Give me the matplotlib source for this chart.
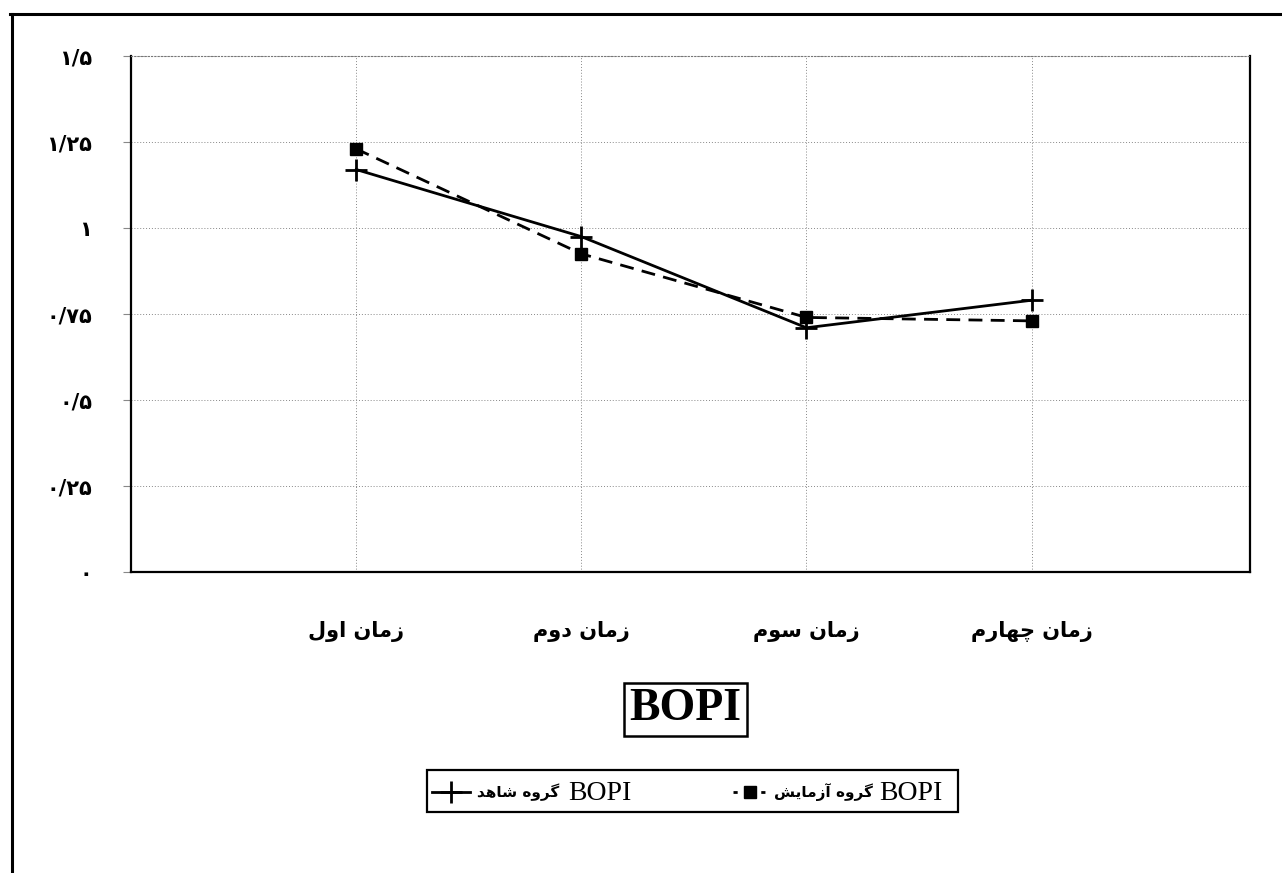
import matplotlib
matplotlib.use("Agg")
import matplotlib.pyplot as plt
from matplotlib.lines import Line2D
from matplotlib.patches import Rectangle

# ---------------- data ----------------
categories = ["زمان اول", "زمان دوم", "زمان سوم", "زمان چهارم"]
control_values = [1.17, 0.975, 0.71, 0.79]       # BOPI گروه شاهد
experiment_values = [1.23, 0.925, 0.74, 0.73]    # BOPI گروه آزمایش
y_ticks = [0, 0.25, 0.5, 0.75, 1.0, 1.25, 1.5]
y_tick_labels = ["۰", "۰/۲۵", "۰/۵", "۰/۷۵", "۱", "۱/۲۵", "۱/۵"]
title_text = "BOPI"
control_label = "گروه شاهد"
experiment_label = "گروه آزمایش"
series_name = "BOPI"

# ------------- simple Persian shaping (presentation forms + visual order) -------------
FORMS = {
    "ا": ("\uFE8D", "\uFE8E", None, None),
    "آ": ("\uFE81", "\uFE82", None, None),
    "د": ("\uFEA9", "\uFEAA", None, None),
    "ر": ("\uFEAD", "\uFEAE", None, None),
    "ز": ("\uFEAF", "\uFEB0", None, None),
    "و": ("\uFEED", "\uFEEE", None, None),
    "م": ("\uFEE1", "\uFEE2", "\uFEE3", "\uFEE4"),
    "ن": ("\uFEE5", "\uFEE6", "\uFEE7", "\uFEE8"),
    "ل": ("\uFEDD", "\uFEDE", "\uFEDF", "\uFEE0"),
    "س": ("\uFEB1", "\uFEB2", "\uFEB3", "\uFEB4"),
    "ش": ("\uFEB5", "\uFEB6", "\uFEB7", "\uFEB8"),
    "ه": ("\uFEE9", "\uFEEA", "\uFEEB", "\uFEEC"),
    "چ": ("\uFB7A", "\uFB7B", "\uFB7C", "\uFB7D"),
    "گ": ("\uFB92", "\uFB93", "\uFB94", "\uFB95"),
    "ی": ("\uFBFC", "\uFBFD", "\uFBFE", "\uFBFF"),
}


def shape(text):
    out = []
    n = len(text)
    for i, ch in enumerate(text):
        if ch not in FORMS:
            out.append(ch)
            continue
        iso, fin, ini, med = FORMS[ch]
        prev = text[i - 1] if i > 0 else ""
        nxt = text[i + 1] if i < n - 1 else ""
        join_prev = prev in FORMS and FORMS[prev][2] is not None
        join_next = ini is not None and nxt in FORMS
        if join_prev and join_next:
            out.append(med)
        elif join_prev:
            out.append(fin)
        elif join_next:
            out.append(ini)
        else:
            out.append(iso)
    return "".join(out)[::-1]


FA = ["DejaVu Sans"]
SERIF = ["Liberation Serif", "DejaVu Serif"]

W, H = 1282, 873
fig = plt.figure(figsize=(W / 100, H / 100), dpi=100)


def fx(px):
    return px / W


def fy(py):
    return 1 - py / H


ax = fig.add_axes([fx(131), fy(572), fx(1250) - fx(131), fy(56) - fy(572)])

x = list(range(len(categories)))
ax.plot(x, control_values, color="black", lw=2.0, marker="+", ms=16, mew=2.0,
        zorder=4)
ax.plot(x, experiment_values, color="black", lw=2.0, ls=(0, (5, 3)), marker="s",
        ms=9, zorder=5)

ax.set_xlim(-1.0, 3.97)
ax.set_ylim(0, 1.5)
ax.set_yticks(y_ticks)
ax.set_yticklabels(y_tick_labels, fontfamily=FA, fontweight="bold", fontsize=15)
ax.set_xticks(x)
ax.set_xticklabels([shape(c) for c in categories], fontfamily=FA,
                   fontweight="bold", fontsize=15)
ax.tick_params(axis="y", length=6, width=0.8, color="#888888", pad=22)
ax.tick_params(axis="x", length=0, pad=35)

ax.grid(True, which="major", axis="both", color="#888888", lw=0.7,
        ls=(0, (1, 2)))
ax.set_axisbelow(True)
for side in ["left", "bottom", "right"]:
    ax.spines[side].set_color("black")
    ax.spines[side].set_linewidth(1.6)
ax.spines["top"].set_color("#777777")
ax.spines["top"].set_linewidth(0.8)
ax.spines["top"].set_linestyle((0, (1, 2)))

# ---------------- title box ----------------
fig.text(fx(685), fy(709), title_text, fontfamily=SERIF, fontweight="bold",
         fontsize=33, ha="center", va="center",
         bbox=dict(boxstyle="square,pad=0.12", fc="white", ec="black", lw=1.8))

# ---------------- legend (manual) ----------------
fig.patches.append(Rectangle((fx(427), fy(812)), fx(958) - fx(427),
                             fy(770) - fy(812), transform=fig.transFigure,
                             fill=False, ec="black", lw=1.6))
ly = fy(792)
fig.lines.append(Line2D([fx(432), fx(470)], [ly, ly], color="black", lw=2.0,
                        transform=fig.transFigure))
fig.lines.append(Line2D([fx(451)], [ly], color="black", marker="+", ms=16,
                        mew=2.0, ls="none", transform=fig.transFigure))
fig.text(fx(477), ly, shape(control_label), fontfamily=FA, fontweight="bold",
         fontsize=11, ha="left", va="center")
fig.text(fx(568), ly - 0.002, series_name, fontfamily=SERIF, fontsize=20,
         ha="left", va="center")

fig.lines.append(Line2D([fx(733), fx(768)], [ly, ly], color="black", lw=2.0,
                        ls=(0, (1.5, 3.5)), transform=fig.transFigure))
fig.lines.append(Line2D([fx(750)], [ly], color="black", marker="s", ms=8,
                        ls="none", transform=fig.transFigure))
fig.text(fx(774), ly, shape(experiment_label), fontfamily=FA, fontweight="bold",
         fontsize=11, ha="left", va="center")
fig.text(fx(879), ly - 0.002, series_name, fontfamily=SERIF, fontsize=20,
         ha="left", va="center")

# ---------------- outer page frame ----------------
fig.lines.append(Line2D([fx(10), fx(1282)], [fy(14), fy(14)], color="black",
                        lw=2.2, transform=fig.transFigure))
fig.lines.append(Line2D([fx(12), fx(12)], [fy(14), fy(873)], color="black",
                        lw=2.2, transform=fig.transFigure))

fig.savefig("out.png", dpi=100)
